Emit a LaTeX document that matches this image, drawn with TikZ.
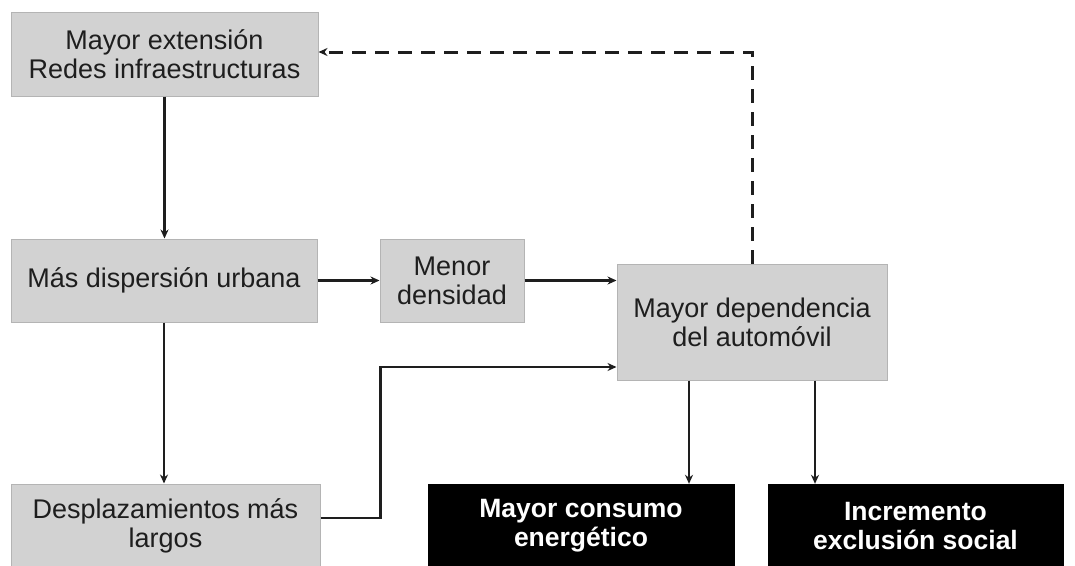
\documentclass[tikz,border=0pt]{standalone}
\usepackage{fontspec}
\setmainfont{Liberation Sans}
\usetikzlibrary{arrows.meta,calc}
\definecolor{boxfill}{HTML}{D2D2D2}
\definecolor{boxline}{HTML}{B4B4B4}
\definecolor{ink}{HTML}{1E1E1E}
\begin{document}
\begin{tikzpicture}[x=1pt,y=-1pt,
  graybox/.style={draw=boxline, fill=boxfill, line width=1pt, align=center, inner sep=0pt,
    text=ink, font=\fontsize{27}{29}\selectfont},
  blackbox/.style={draw=black, fill=black, align=center, inner sep=0pt,
    text=white, font=\fontsize{26.5}{29}\selectfont\bfseries},
  arr/.style={draw=ink, line width=2.5pt, -{Stealth[length=9pt,width=8pt]}},
  darr/.style={arr, dash pattern=on 14pt off 9pt, line width=3pt}]
\useasboundingbox (0,0) rectangle (1075,565);
\fill[white] (0,0) rectangle (1075,565);
\node[graybox, minimum width=307pt, minimum height=84pt] (A) at (164.5,54) {Mayor extensión\\Redes infraestructuras};
\node[graybox, minimum width=306pt, minimum height=83pt] (B) at (164,280.5) {Más dispersión urbana};
\node[graybox, minimum width=144pt, minimum height=83pt] (C) at (452,280.5) {Menor\\densidad};
\node[graybox, minimum width=270pt, minimum height=116pt] (D) at (752,322) {Mayor dependencia\\del automóvil};
\node[graybox, minimum width=309pt, minimum height=84pt] (E) at (165.5,526) {Desplazamientos más\\largos};
\node[blackbox, minimum width=306pt, minimum height=84pt] (F) at (581,526) {Mayor consumo\\energético};
\node[blackbox, minimum width=295pt, minimum height=84pt] (G) at (915.5,526) {Incremento\\exclusión social};
\draw[arr] (A.south) -- (A.south |- B.north);
\draw[arr] (B.east) -- (C.west);
\draw[arr] (C.east) -- (C.east -| D.west);
\draw[arr] (B.south) -- (B.south |- E.north);
\draw[arr] ([yshift=8pt]E.east) -- ++(60,0) |- ([yshift=-45pt]D.west);
\draw[darr] (D.north) |- ([yshift=2pt]A.east);
\draw[arr] ([xshift=-63pt]D.south) -- ([xshift=-63pt]D.south |- F.north);
\draw[arr] ([xshift=63pt]D.south) -- ([xshift=63pt]D.south |- G.north);
\end{tikzpicture}
\end{document}
